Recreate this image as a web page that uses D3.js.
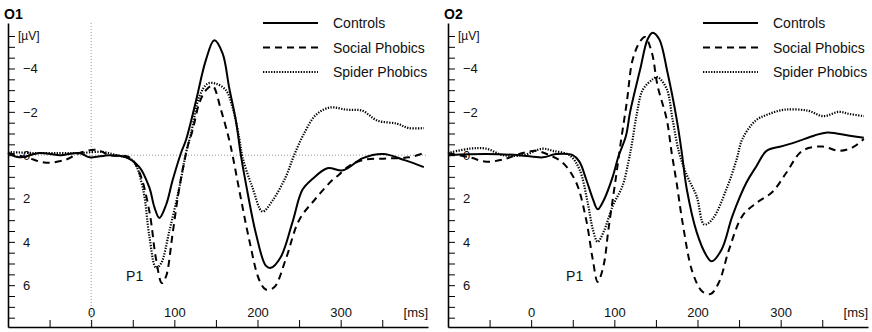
<!DOCTYPE html>
<html>
<head>
<meta charset="utf-8">
<script src="https://cdn.jsdelivr.net/npm/d3@7"></script>
<style>
  body { margin: 0; background: #fff; }
  svg { display: block; font-family: "Liberation Sans", Arial, sans-serif; }
</style>
</head>
<body>
<svg id="chart" width="872" height="332"></svg>
<script>
// values: [ms, µV]
var groups = ["Controls", "Social Phobics", "Spider Phobics"];
var panelTitles = ["O1", "O2"];
var xLabels = [0, 100, 200, 300];
var yLabels = [-4, -2, 0, 2, 4, 6];

var o1Controls = [[-100,-0.1],[-86,0.1],[-62,-0.1],[-38,0],[-14,-0.1],[-2,0.1],[22,0],[42,0.1],[58,0.55],[70,1.5],[76,2.4],[82,2.9],[90,2.3],[98,1.15],[108,-0.1],[114,-0.7],[126,-2.5],[138,-4.4],[148,-5.3],[158,-4.7],[166,-3.1],[174,-1.6],[180,0],[186,1.3],[198,3.6],[210,5.1],[216,5.2],[228,4.7],[242,3.1],[254,1.6],[266,1.1],[284,0.6],[303,0.7],[326,0.15],[351,-0.05],[377,0.23],[400,0.55]];
var o1Social = [[-100,-0.1],[-78,0.1],[-54,0.35],[-30,0.2],[-14,-0.1],[6,-0.25],[22,0],[46,0.1],[58,0.8],[70,2.6],[78,4.8],[85,5.9],[90,5.6],[98,3.6],[106,1.5],[116,-0.4],[122,-1.15],[130,-2.4],[138,-3.0],[146,-3.2],[156,-2.1],[166,-0.7],[170,0],[178,1.6],[190,3.9],[202,5.75],[210,6.2],[220,6.1],[234,4.8],[250,3.0],[270,2.0],[290,1.15],[298,0.9],[310,0.5],[326,0.23],[355,0.15],[382,0.1],[400,-0.1]];
var o1Spider = [[-100,-0.15],[-70,-0.1],[-38,-0.1],[-14,-0.1],[14,-0.15],[30,0],[50,0.25],[62,1.5],[70,3.75],[78,5.2],[84,5.0],[94,3.5],[106,1.5],[114,-0.1],[120,-1.0],[130,-2.7],[140,-3.3],[150,-3.3],[162,-3.0],[170,-2.2],[178,-0.8],[182,0.1],[194,1.5],[206,2.6],[218,2.1],[234,1.0],[244,0],[256,-1.0],[270,-1.85],[287,-2.2],[307,-2.1],[326,-2.05],[344,-1.6],[368,-1.45],[382,-1.25],[400,-1.25]];

var o2Controls = [[-100,0],[-54,-0.05],[-14,0],[14,0.1],[30,-0.05],[50,0],[58,0.3],[66,1.1],[74,2.0],[80,2.5],[87,2.1],[98,1.0],[105,0.05],[114,-0.9],[119,-2.0],[131,-3.95],[140,-5.35],[146,-5.65],[154,-5.35],[164,-3.8],[175,-1.65],[181,-0.15],[187,1.55],[199,3.55],[211,4.65],[217,4.9],[229,4.35],[242,2.8],[259,1.25],[271,0.5],[283,-0.2],[300,-0.4],[318,-0.6],[340,-0.9],[356,-1.05],[383,-0.9],[400,-0.8]];
var o2Social = [[-100,-0.1],[-74,0.1],[-54,0.3],[-34,0.2],[-10,-0.1],[6,-0.2],[22,0],[38,0.35],[54,1.25],[66,2.95],[74,4.8],[80,5.85],[87,5.1],[93,3.4],[102,1.0],[107,-0.4],[115,-2.45],[122,-4.4],[131,-5.25],[137,-5.45],[145,-4.75],[152,-3.2],[163,-1.65],[169,-0.1],[175,1.3],[182,3.1],[194,5.4],[206,6.3],[216,6.4],[226,5.85],[238,4.35],[254,2.8],[271,2.2],[290,1.7],[307,0.8],[326,-0.2],[350,-0.4],[370,-0.2],[386,-0.35],[400,-0.75]];
var o2Spider = [[-100,-0.1],[-74,-0.3],[-54,-0.3],[-34,0],[-10,0],[14,-0.3],[26,-0.2],[46,0],[58,0.65],[68,2.2],[74,3.4],[80,4.0],[87,3.55],[98,2.35],[110,1.4],[117,0.3],[121,-0.5],[127,-1.9],[134,-3.0],[146,-3.5],[152,-3.6],[163,-3.05],[170,-1.65],[178,-0.1],[188,1.0],[199,1.9],[208,3.2],[218,2.95],[235,1.55],[247,0.2],[254,-0.75],[270,-1.6],[286,-1.9],[305,-2.1],[333,-2.05],[351,-1.8],[370,-2.0],[383,-1.9],[400,-1.8]];

var svg = d3.select("#chart");
var dashes = ["none", "7,5", "1.3,1.4"];

var x = d3.scaleLinear().domain([-100, 405]).range([0, 420]);
var y = d3.scaleLinear().domain([-6.1, 7.93]).range([23, 327]);

var line = d3.line()
	.x(d => x(d[0]))
	.y(d => y(d[1]))
	.curve(d3.curveCatmullRom);

function drawPanel(left, title, series, guides) {
	var g = svg.append("g").attr("transform", `translate(${left},0)`);

	if (guides) {
		g.append("line")
			.attr("x1", x(0)).attr("x2", x(0))
			.attr("y1", y(-6.1)).attr("y2", y(7.93))
			.attr("stroke", "#999").attr("stroke-dasharray", "1,2");
		g.append("line")
			.attr("x1", 0).attr("x2", x(405))
			.attr("y1", y(0)).attr("y2", y(0))
			.attr("stroke", "#999").attr("stroke-dasharray", "1,2");
	}

	var yAxis = g.append("g")
		.call(d3.axisRight(y)
			.tickValues(d3.range(-5.5, 7.51, 0.5))
			.tickSize(7).tickSizeOuter(0).tickPadding(8)
			.tickFormat(d => yLabels.includes(d) ? d3.format("d")(d) : ""));
	yAxis.select(".domain").attr("stroke-width", 1.6);
	yAxis.selectAll("text").attr("font-size", 13).attr("font-family", "Liberation Sans, Arial, sans-serif").attr("fill", "#111");

	var xAxis = g.append("g")
		.attr("transform", `translate(0,${y(7.93)})`)
		.call(d3.axisTop(x)
			.tickValues(d3.range(-50, 351, 50))
			.tickSize(7).tickSizeOuter(0).tickPadding(3)
			.tickFormat(d => xLabels.includes(d) ? d : ""));
	xAxis.select(".domain").attr("stroke-width", 1.6);
	xAxis.selectAll("text").attr("font-size", 13).attr("font-family", "Liberation Sans, Arial, sans-serif").attr("fill", "#111");

	g.append("text")
		.attr("x", 10).attr("y", y(-5.5) + 4)
		.attr("font-size", 12).attr("fill", "#111")
		.text("[µV]");
	g.append("text")
		.attr("x", x(400) - 8).attr("y", y(7.93) - 10)
		.attr("text-anchor", "middle")
		.attr("font-size", 13).attr("fill", "#111")
		.text("[ms]");
	g.append("text")
		.attr("x", x(-100) - 4).attr("y", 19)
		.attr("font-size", 14).attr("font-weight", "bold")
		.text(title);
	g.append("text")
		.attr("x", x(42)).attr("y", y(5.8))
		.attr("font-size", 14).attr("fill", "#111")
		.text("P1");

	series.forEach((s, i) => {
		g.append("path")
			.datum(s)
			.attr("d", line)
			.attr("fill", "none")
			.attr("stroke", "#000")
			.attr("stroke-width", i == 2 ? 2.2 : 2)
			.attr("stroke-dasharray", dashes[i]);
	});

	groups.forEach((name, i) => {
		var ly = 23 + i * 24.5;
		g.append("line")
			.attr("x1", 255).attr("x2", 310)
			.attr("y1", ly).attr("y2", ly)
			.attr("stroke", "#000")
			.attr("stroke-width", i == 2 ? 2.2 : 2)
			.attr("stroke-dasharray", dashes[i]);
		g.append("text")
			.attr("x", 325).attr("y", ly + 5)
			.attr("font-size", 14).attr("fill", "#111")
			.text(name);
	});
}

drawPanel(8, panelTitles[0], [o1Controls, o1Social, o1Spider], true);
drawPanel(448, panelTitles[1], [o2Controls, o2Social, o2Spider], false);
</script>
</body>
</html>
